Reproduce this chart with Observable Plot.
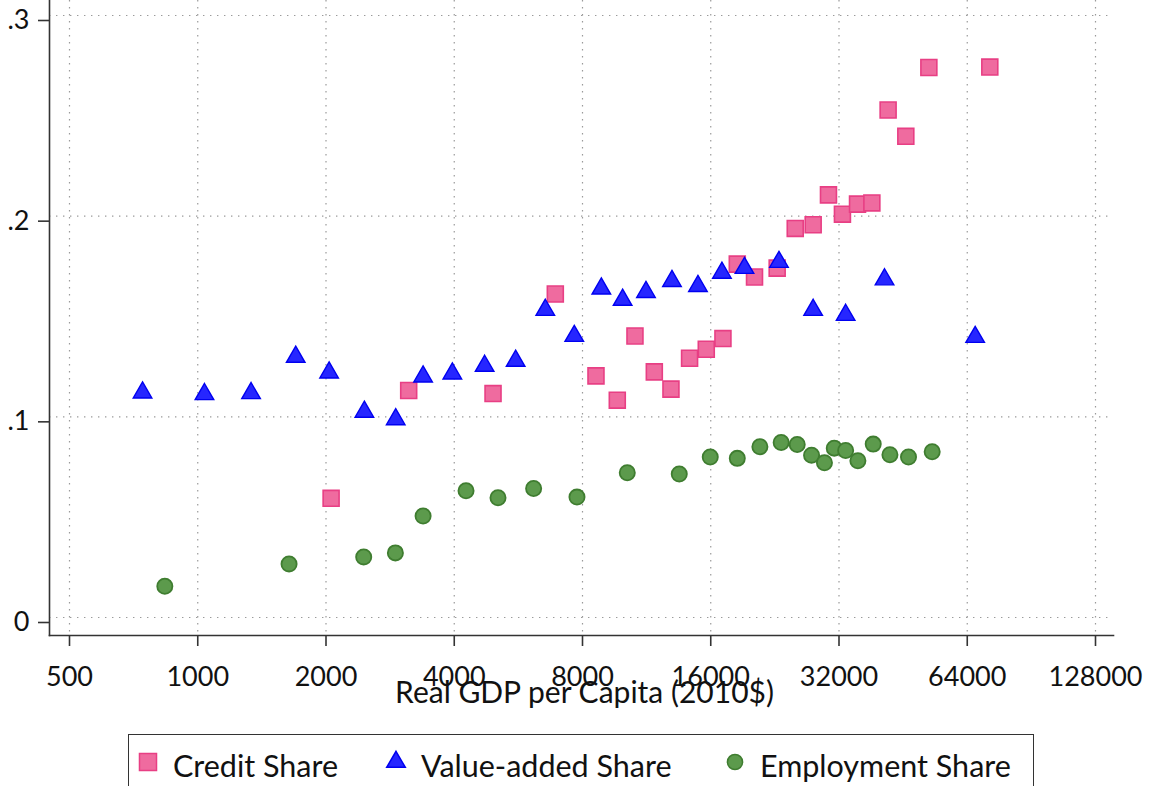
<!DOCTYPE html>
<html>
<head>
<meta charset="utf-8">
<script src="https://cdn.jsdelivr.net/npm/d3@7"></script>
<script src="https://cdn.jsdelivr.net/npm/@observablehq/plot@0.6"></script>
<style>
  html, body { margin: 0; padding: 0; background: #fff; overflow: hidden; }
  #wrap { position: relative; width: 1153px; height: 786px; font-family: Lato, "Open Sans", sans-serif; color: #111; }
  #chart svg { display: block; }
  #legend { position: absolute; left: 128px; top: 734px; width: 906px; height: 80px; border: 1.5px solid #333; box-sizing: border-box; }
  .item { position: absolute; top: 10px; font-size: 30.5px; line-height: 40px; white-space: nowrap; }
  .item svg { position: absolute; top: 0; }
</style>
</head>
<body>
<div id="wrap">
  <div id="chart"></div>
  <div id="legend"></div>
</div>
<script>
// Real GDP per capita (2010$) and sector shares, one pair of arrays per series
const creditGdp = [2056, 3127, 4933, 6907, 8605, 9655, 10623, 11794, 12904, 14270, 15618, 17090, 18467,
  20270, 22910, 25260, 27830, 30230, 32600, 35370, 38220, 41730, 45920, 52010, 72300];
const creditShare = [0.0594, 0.1131, 0.1116, 0.1612, 0.1204, 0.1083, 0.1403, 0.1224, 0.1138, 0.1292, 0.1337,
  0.1390, 0.1761, 0.1697, 0.1741, 0.1939, 0.1957, 0.2106, 0.2010, 0.2060, 0.2066, 0.2529, 0.2398, 0.2741, 0.2743];

const vaGdp = [742, 1037, 1334, 1698, 2034, 2461, 2915, 3380, 3959, 4714, 5574, 6543, 7652, 8857, 9937,
  11274, 12975, 14931, 16996, 19200, 23134, 27830, 33170, 40930, 66800];
const vaShare = [0.1134, 0.1126, 0.1131, 0.1312, 0.1234, 0.1038, 0.1001, 0.1214, 0.1229, 0.1267, 0.1292,
  0.1546, 0.1416, 0.1652, 0.1596, 0.1635, 0.1690, 0.1665, 0.1731, 0.1755, 0.1785, 0.1546, 0.1521, 0.1698, 0.1411];

const empGdp = [837, 1638, 2452, 2910, 3380, 4263, 5067, 6143, 7765, 10190, 13496, 15957, 18467, 20868,
  23411, 25530, 27590, 29580, 31190, 33170, 35440, 38500, 42140, 46590, 52950];
const empShare = [0.0156, 0.0267, 0.0302, 0.0322, 0.0506, 0.0632, 0.0597, 0.0643, 0.0600, 0.0721, 0.0715,
  0.0800, 0.0793, 0.0851, 0.0872, 0.0862, 0.0809, 0.0771, 0.0844, 0.0832, 0.0781, 0.0864, 0.0811, 0.0800, 0.0826];

const xTicks = [500, 1000, 2000, 4000, 8000, 16000, 32000, 64000, 128000];
const yTicks = [0, 0.1, 0.2, 0.3];
const yTickLabels = ["0", ".1", ".2", ".3"];

const xTitle = "Real GDP per Capita (2010$)";
const seriesNames = ["Credit Share", "Value-added Share", "Employment Share"];

const credit = creditGdp.map((g, i) => ({gdp: g, share: creditShare[i]}));
const va = vaGdp.map((g, i) => ({gdp: g, share: vaShare[i]}));
const emp = empGdp.map((g, i) => ({gdp: g, share: empShare[i]}));

const pink = {fill: "#ef6b9f", stroke: "#e83f84"};
const blue = {fill: "#2626ff", stroke: "#0000f0"};
const green = {fill: "#5c9a4c", stroke: "#3f7d30"};

const font = "Lato, 'Open Sans', sans-serif";
const grid = {stroke: "#9a9a9a", strokeOpacity: 1, strokeWidth: 1.2, strokeDasharray: "1.4,5.6"};

const chart = Plot.plot({
  width: 1153,
  height: 720,
  marginLeft: 49,
  marginRight: 40,
  marginTop: 0,
  marginBottom: 85,
  insetLeft: 20,
  insetRight: 18,
  insetTop: 15,
  insetBottom: 18,
  style: {fontFamily: font, fontSize: "27px", color: "#111", background: "white"},
  x: {type: "log", base: 2, domain: [500, 128000]},
  y: {domain: [0, 0.3]},
  marks: [
    Plot.gridX(xTicks, grid),
    Plot.gridY(yTicks, grid),
    Plot.frame({anchor: "left", stroke: "#333", strokeWidth: 1.6}),
    Plot.frame({anchor: "bottom", stroke: "#333", strokeWidth: 1.6}),
    Plot.axisX(xTicks, {
      tickSize: 11, tickPadding: 20, tickFormat: d => String(d), stroke: "#333", strokeWidth: 1.6,
      fontSize: 27, label: null
    }),
    Plot.text([xTitle], {
      frameAnchor: "bottom", lineAnchor: "middle", dy: 58, dx: 3, fontSize: 30, fill: "#111"
    }),
    Plot.axisY(yTicks, {
      tickSize: 11, tickPadding: 9, tickFormat: d => yTickLabels[yTicks.indexOf(d)],
      stroke: "#333", strokeWidth: 1.6, fontSize: 27, dy: 5, label: null
    }),
    Plot.dot(credit, {x: "gdp", y: "share", symbol: "square", r: 9, fill: pink.fill, stroke: pink.stroke, strokeWidth: 1.6}),
    Plot.dot(va, {x: "gdp", y: "share", symbol: "triangle", r: 6.9, dy: 2.7, fill: blue.fill, stroke: blue.stroke, strokeWidth: 1.4}),
    Plot.dot(emp, {x: "gdp", y: "share", symbol: "circle", r: 7.6, fill: green.fill, stroke: green.stroke, strokeWidth: 1.8})
  ]
});
document.getElementById("chart").appendChild(chart);

// Legend row beneath the chart
const legendItems = [
  {name: seriesNames[0], symbol: d3.symbolSquare, size: 290, color: pink, left: 8},
  {name: seriesNames[1], symbol: d3.symbolTriangle, size: 150, color: blue, left: 256},
  {name: seriesNames[2], symbol: d3.symbolCircle, size: 180, color: green, left: 595}
];
const legend = document.getElementById("legend");
for (const it of legendItems) {
  const div = document.createElement("div");
  div.className = "item";
  div.style.left = it.left + "px";
  const path = d3.symbol(it.symbol, it.size)();
  div.innerHTML = `<svg width="22" height="34" style="left:0"><path transform="translate(11,17)" d="${path}" fill="${it.color.fill}" stroke="${it.color.stroke}" stroke-width="1.5"/></svg><span style="margin-left:36px">${it.name}</span>`;
  legend.appendChild(div);
}
</script>
</body>
</html>
